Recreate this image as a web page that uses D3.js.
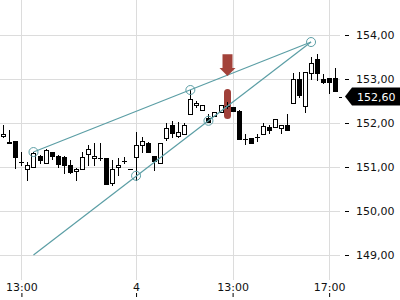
<!DOCTYPE html>
<html>
<head>
<meta charset="utf-8">
<script src="https://cdn.jsdelivr.net/npm/d3@7"></script>
<style>
  body { margin: 0; background: #fff; }
  text { font-family: "DejaVu Sans", sans-serif; }
</style>
</head>
<body>
<script>
// candle values, one entry per bar (index = position on the x axis)
var opens  = [151.70,151.56,151.58,151.12,150.95,151.00,151.26,151.09,151.34,151.26,
              151.23,151.05,150.91,150.95,151.29,151.20,151.20,151.20,150.64,150.99,
              151.14,150.95,151.23,151.50,151.55,151.25,151.08,151.66,151.95,151.70,
              151.75,152.20,152.41,152.30,152.11,152.16,152.24,152.39,152.36,152.28,
              151.63,151.67,151.69,151.74,151.90,151.90,151.89,151.95,152.45,152.99,
              152.39,153.14,153.45,152.99,153.03,153.03];
var highs  = [151.95,151.84,151.59,151.35,151.12,151.35,151.27,151.41,151.35,151.27,
              151.26,151.16,150.98,151.33,151.50,151.55,151.54,151.20,151.16,151.20,
              151.23,150.96,151.80,151.69,151.57,151.25,151.55,152.01,152.05,152.03,
              152.00,152.75,152.51,152.41,152.20,152.24,152.40,152.48,152.37,152.30,
              151.75,151.67,151.74,151.99,151.95,152.10,151.95,152.20,153.13,153.16,
              153.15,153.51,153.56,153.11,153.03,153.24];
var lows   = [151.69,151.54,150.98,151.05,150.70,151.00,151.10,151.08,151.18,151.00,
              150.86,150.86,150.70,150.95,151.05,151.05,151.16,150.61,150.59,150.82,
              151.10,150.95,150.70,151.35,151.34,150.93,151.08,151.61,151.69,151.69,
              151.75,152.20,152.37,152.30,152.02,152.16,152.24,152.33,152.28,151.63,
              151.52,151.54,151.60,151.74,151.77,151.90,151.77,151.83,152.45,152.60,
              152.26,153.00,152.98,152.92,152.68,152.73];
var closes = [151.76,151.55,151.23,151.12,151.05,151.32,151.17,151.39,151.25,151.07,
              151.05,150.89,150.95,151.23,151.40,151.25,151.20,150.61,150.95,151.05,
              151.14,150.95,151.50,151.58,151.35,151.14,151.54,151.89,151.78,151.80,
              151.95,152.54,152.45,152.41,152.02,152.24,152.40,152.39,152.28,151.64,
              151.63,151.54,151.69,151.93,151.83,152.10,151.95,151.83,152.99,152.64,
              153.15,153.36,153.14,152.94,152.94,152.73];

var lastPrice = 152.60;

var priceTicks = [149, 150, 151, 152, 153, 154];
var timeTickIdx = [3, 22, 38, 54];
var timeTickLabels = ["13:00", "4", "13:00", "17:00"];

// trend lines: [index, price] start and end
var trendUpper = [[5, 151.34], [51, 153.84]];
var trendLower = [[5, 149.00], [51, 153.84]];
var anchorPoints = [[5, 151.34], [22, 150.80], [31, 152.75], [34, 152.05], [51, 153.84]];

// sell signal marker
var signalIdx = 37;
var arrowTop = 153.56, arrowTip = 153.07;
var pillTop = 152.77, pillBottom = 152.09;

var width = 400, height = 300;
var plotW = 340, plotH = 280;

var svg = d3.select("body").append("svg")
    .attr("width", width)
    .attr("height", height);

var x = d3.scaleLinear()
    .domain([-0.55, 55.8])
    .range([0, plotW]);

var y = d3.scaleLinear()
    .domain([154, 149])
    .range([35, 255]);

// grid
var grid = svg.append("g").attr("shape-rendering", "crispEdges");
grid.selectAll("line.h")
    .data(priceTicks)
    .enter().append("line")
    .attr("class", "h")
    .attr("x1", 0).attr("x2", plotW)
    .attr("y1", function(d) { return Math.round(y(d)) + 0.5; })
    .attr("y2", function(d) { return Math.round(y(d)) + 0.5; })
    .attr("stroke", "#dcdcdc");
grid.selectAll("line.v")
    .data(timeTickIdx)
    .enter().append("line")
    .attr("class", "v")
    .attr("y1", 0).attr("y2", plotH)
    .attr("x1", function(d) { return Math.round(x(d)) + 0.5; })
    .attr("x2", function(d) { return Math.round(x(d)) + 0.5; })
    .attr("stroke", "#dcdcdc");

// signal pill behind candles
var sx = Math.round(x(signalIdx)) + 0.5;
svg.append("rect")
    .attr("x", sx - 3.5)
    .attr("y", y(pillTop))
    .attr("width", 7)
    .attr("height", y(pillBottom) - y(pillTop))
    .attr("rx", 3.5)
    .attr("fill", "#a0403a");

// candles
var candles = svg.append("g").attr("shape-rendering", "crispEdges");
opens.forEach(function(o, i) {
    var c = closes[i];
    var cx = Math.round(x(i)) + 0.5;
    candles.append("line")
        .attr("x1", cx).attr("x2", cx)
        .attr("y1", Math.round(y(highs[i])))
        .attr("y2", Math.round(y(lows[i])) + 1)
        .attr("stroke", "#000");
    var top = Math.round(y(Math.max(o, c))) + 0.5;
    var bot = Math.round(y(Math.min(o, c))) + 0.5;
    if (bot - top < 1) {
        candles.append("line")
            .attr("x1", cx - 2.5).attr("x2", cx + 2.5)
            .attr("y1", top).attr("y2", top)
            .attr("stroke", "#000");
    } else {
        candles.append("rect")
            .attr("x", cx - 2)
            .attr("y", top)
            .attr("width", 4)
            .attr("height", bot - top)
            .attr("fill", c >= o ? "#fff" : "#000")
            .attr("stroke", "#000");
    }
});

// trend lines
var teal = "#5b9ea5";
var line = d3.line()
    .x(function(d) { return x(d[0]); })
    .y(function(d) { return y(d[1]); });
svg.selectAll("path.trend")
    .data([trendUpper, trendLower])
    .enter().append("path")
    .attr("class", "trend")
    .attr("d", line)
    .attr("fill", "none")
    .attr("stroke", teal)
    .attr("stroke-width", 1.2);
svg.selectAll("circle.anchor")
    .data(anchorPoints)
    .enter().append("circle")
    .attr("class", "anchor")
    .attr("cx", function(d) { return x(d[0]); })
    .attr("cy", function(d) { return y(d[1]); })
    .attr("r", 4.5)
    .attr("fill", "none")
    .attr("stroke", teal)
    .attr("stroke-width", 1);

// down arrow
var at = y(arrowTop), ap = y(arrowTip), neck = ap - 8;
svg.append("path")
    .attr("d", "M" + (sx - 5) + "," + at + "H" + (sx + 5) + "V" + neck +
               "H" + (sx + 8) + "L" + sx + "," + ap + "L" + (sx - 8) + "," + neck +
               "H" + (sx - 5) + "Z")
    .attr("fill", "#a3423a");

// price axis
var yAxis = svg.append("g")
    .attr("transform", "translate(345,0)")
    .call(d3.axisRight(y)
        .tickValues(priceTicks)
        .tickSize(4)
        .tickPadding(7)
        .tickFormat(function(d) { return d.toFixed(2).replace(".", ","); }));
yAxis.select(".domain").remove();
yAxis.selectAll("text").attr("font-size", 11).attr("font-family", "DejaVu Sans").attr("fill", "#111");

// time axis (ticks below labels)
var xAxis = svg.append("g")
    .attr("transform", "translate(0,297)")
    .call(d3.axisTop(x)
        .tickValues(timeTickIdx)
        .tickSize(4)
        .tickPadding(2)
        .tickFormat(function(d, i) { return timeTickLabels[i]; }));
xAxis.select(".domain").remove();
xAxis.selectAll("text").attr("font-size", 11).attr("font-family", "DejaVu Sans").attr("fill", "#111");

// last price marker
var ly = y(lastPrice);
svg.append("line")
    .attr("x1", 339).attr("x2", 342)
    .attr("y1", Math.round(ly) + 0.5).attr("y2", Math.round(ly) + 0.5)
    .attr("stroke", "#000");
svg.append("path")
    .attr("d", "M345," + ly + "L352," + (ly - 9) + "H400V" + (ly + 9) + "H352Z")
    .attr("fill", "#000");
svg.append("text")
    .attr("x", 357)
    .attr("y", ly)
    .attr("dy", "0.36em")
    .attr("font-size", 11)
    .attr("fill", "#fff")
    .text(lastPrice.toFixed(2).replace(".", ","));
</script>
</body>
</html>
